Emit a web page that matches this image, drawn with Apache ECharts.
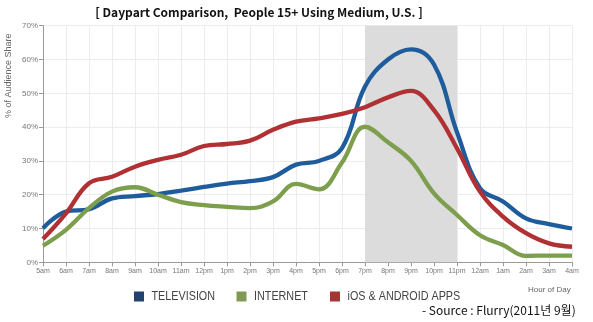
<!DOCTYPE html>
<html><head><meta charset="utf-8">
<script src="https://cdn.jsdelivr.net/npm/echarts@6/dist/echarts.min.js"></script>
<style>html,body{margin:0;padding:0;background:#fff}#c{width:593px;height:322px}</style>
</head><body><div id="c"></div>
<script>
var hours = ['5am','6am','7am','8am','9am','10am','11am','12pm','1pm','2pm','3pm','4pm','5pm','6pm','7pm','8pm','9pm','10pm','11pm','12am','1am','2am','3am','4am'];
var television = [10.1,15.0,15.7,18.9,19.6,20.2,21.2,22.3,23.3,24.0,25.2,28.9,30.0,33.8,52.0,60.0,63.0,58.5,38.5,21.9,18.0,13.0,11.3,10.0];
var internet = [4.9,9.6,16.0,20.9,22.2,20.0,17.8,16.9,16.4,16.0,18.0,23.2,21.6,29.5,40.1,35.5,30.0,20.4,14.0,8.0,5.1,1.9,2.0,2.0];
var iosAndroid = [6.9,14.5,23.4,25.3,28.3,30.3,31.8,34.4,35.0,36.0,39.2,41.6,42.6,43.9,45.9,48.8,50.7,45.0,33.7,20.9,13.5,8.6,5.6,4.6];
var seriesNames = ['TELEVISION','INTERNET','iOS & ANDROID APPS'];
var primeStart = '7pm', primeEnd = '11pm';

var chart = echarts.init(document.getElementById('c'));
var lineColors = ['#1f5c9c','#7d9e4c','#b03133'];
var legendColors = ['#23436f','#7f9a52','#a83333'];
var legendX = [134, 236.5, 330];
function mk(i, data){
  return {name: seriesNames[i], type:'line', data:data, smooth:0.4, symbol:'none', z:3,
    lineStyle:{width:4.3, color:lineColors[i]}, itemStyle:{color:legendColors[i]}};
}
var graphics = [
  {type:'text', x:4, y:118, rotation:Math.PI/2, style:{text:'% of Audience Share', fontSize:9, fill:'#666', fontFamily:'Liberation Sans, Arial, sans-serif'}},
  {type:'text', left:528, top:286, style:{text:'Hour of Day', fontSize:8, fill:'#666', fontFamily:'Liberation Sans, Arial, sans-serif'}},
  {type:'text', left:422, top:304, style:{text:'- Source : Flurry(2011년 9월)', fontSize:12, fill:'#111', fontFamily:'Noto Sans CJK KR, sans-serif'}}
];
seriesNames.forEach(function(n, i){
  graphics.push({type:'rect', shape:{x:legendX[i], y:291.5, width:10, height:10}, style:{fill:legendColors[i]}});
  graphics.push({type:'text', x:legendX[i]+17.5, y:296.5, scaleX:0.83,
    style:{text:n, fontSize:13, fill:'#444', textVerticalAlign:'middle', verticalAlign:'middle', fontFamily:'Liberation Sans, Arial, sans-serif'}});
});
chart.setOption({
  animation:false,
  title:{text:'[ Daypart Comparison,  People 15+ Using Medium, U.S. ]', left:254, top:1, textAlign:'center',
    textStyle:{fontSize:12, fontWeight:'bold', color:'#111', fontFamily:'Noto Sans CJK KR, sans-serif'}},
  legend:{show:false, data:seriesNames},
  grid:{left:43, right:21, top:25.7, bottom:59.7},
  xAxis:{type:'category', data:hours, boundaryGap:false,
    axisLine:{lineStyle:{color:'#999'}}, axisTick:{show:true, length:4, interval:0, lineStyle:{color:'#999'}},
    axisLabel:{interval:0, fontSize:7, color:'#777', margin:5, fontFamily:'Liberation Sans, Arial, sans-serif'},
    splitLine:{show:true, interval:0, lineStyle:{color:'#ececec'}}},
  yAxis:{type:'value', min:0, max:70, interval:10,
    axisLine:{show:true, lineStyle:{color:'#999'}}, axisTick:{show:true, length:4, lineStyle:{color:'#999'}},
    axisLabel:{formatter:'{value}%', fontSize:8, color:'#777', margin:5, fontFamily:'Liberation Sans, Arial, sans-serif'},
    splitLine:{show:true, lineStyle:{color:'#ececec'}}},
  graphic:graphics,
  series:[
    {type:'line', data:[], z:-1, silent:true,
      markArea:{silent:true, itemStyle:{color:'#dcdcdc'}, data:[[{xAxis:primeStart},{xAxis:primeEnd}]]}},
    mk(0, television), mk(1, internet), mk(2, iosAndroid)
  ]
});
</script></body></html>
